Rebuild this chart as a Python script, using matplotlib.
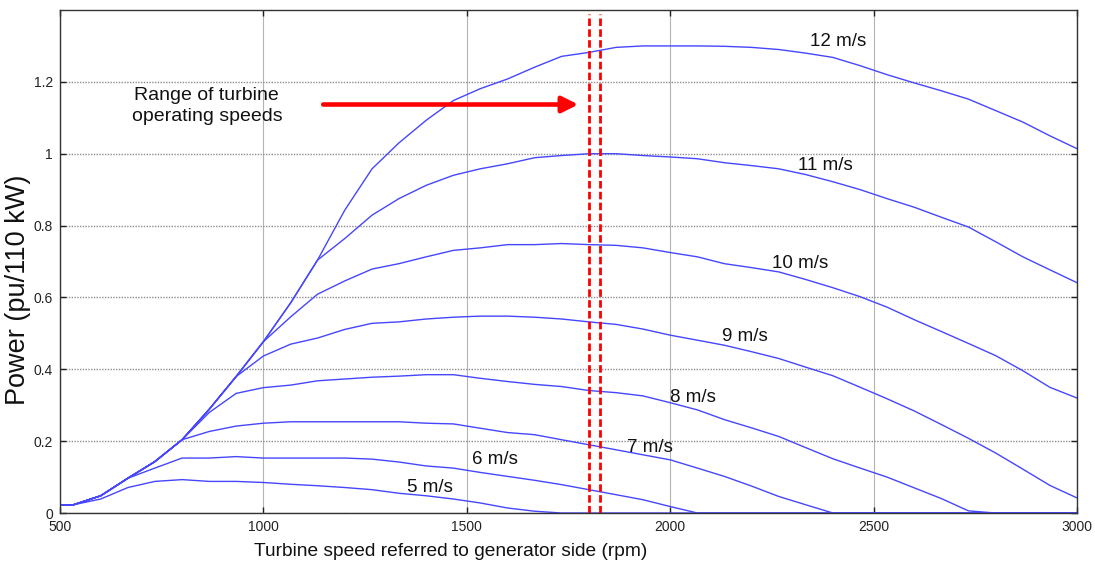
import matplotlib
matplotlib.use('Agg')
import matplotlib.pyplot as plt

# generator-side speed (rpm) and power (pu of 110 kW) per wind speed
x_rpm = [500, 533, 600, 667, 733, 800, 867, 933, 1000, 1067, 1133, 1200, 1267,
         1333, 1400, 1467, 1533, 1600, 1667, 1733, 1800, 1867, 1933, 2000, 2067,
         2133, 2200, 2267, 2333, 2400, 2467, 2533, 2600, 2667, 2733, 2800, 2867,
         2933, 3000]

p12 = [0.023, 0.023, 0.048, 0.097, 0.143, 0.204, 0.289, 0.380, 0.477, 0.585,
       0.704, 0.843, 0.958, 1.030, 1.093, 1.148, 1.181, 1.208, 1.241, 1.271,
       1.282, 1.296, 1.300, 1.300, 1.300, 1.299, 1.296, 1.290, 1.280, 1.268,
       1.245, 1.220, 1.197, 1.175, 1.152, 1.120, 1.088, 1.050, 1.014]
p11 = [0.023, 0.023, 0.048, 0.097, 0.143, 0.204, 0.289, 0.380, 0.477, 0.585,
       0.704, 0.764, 0.829, 0.875, 0.912, 0.940, 0.958, 0.972, 0.989, 0.995,
       1.000, 1.000, 0.995, 0.991, 0.986, 0.975, 0.967, 0.958, 0.942, 0.922,
       0.900, 0.875, 0.851, 0.823, 0.796, 0.755, 0.713, 0.677, 0.641]
p10 = [0.023, 0.023, 0.048, 0.097, 0.143, 0.204, 0.289, 0.380, 0.477, 0.546,
       0.609, 0.646, 0.679, 0.694, 0.713, 0.731, 0.738, 0.747, 0.747, 0.750,
       0.747, 0.745, 0.738, 0.725, 0.713, 0.694, 0.683, 0.671, 0.650, 0.627,
       0.602, 0.573, 0.538, 0.505, 0.472, 0.438, 0.396, 0.350, 0.320]
p9 = [0.023, 0.023, 0.048, 0.097, 0.143, 0.204, 0.289, 0.380, 0.437, 0.470,
      0.487, 0.511, 0.528, 0.532, 0.540, 0.545, 0.548, 0.548, 0.545, 0.540,
      0.532, 0.525, 0.512, 0.495, 0.481, 0.467, 0.449, 0.430, 0.406, 0.382,
      0.350, 0.318, 0.284, 0.246, 0.208, 0.167, 0.122, 0.077, 0.042]
p8 = [0.023, 0.023, 0.048, 0.097, 0.143, 0.204, 0.280, 0.333, 0.349, 0.356,
      0.368, 0.373, 0.378, 0.381, 0.385, 0.385, 0.375, 0.366, 0.358, 0.352,
      0.341, 0.335, 0.326, 0.307, 0.287, 0.260, 0.237, 0.213, 0.182, 0.151,
      0.125, 0.100, 0.070, 0.040, 0.006, 0.0, 0.0, 0.0, 0.0]
p7 = [0.023, 0.023, 0.048, 0.097, 0.143, 0.204, 0.227, 0.242, 0.250, 0.254,
      0.254, 0.254, 0.254, 0.254, 0.250, 0.248, 0.236, 0.224, 0.218, 0.204,
      0.190, 0.176, 0.162, 0.148, 0.125, 0.102, 0.075, 0.046, 0.023, 0.0,
      0.0, 0.0, 0.0, 0.0, 0.0, 0.0, 0.0, 0.0, 0.0]
p6 = [0.023, 0.023, 0.048, 0.097, 0.125, 0.153, 0.153, 0.157, 0.153, 0.153,
      0.153, 0.153, 0.150, 0.142, 0.131, 0.125, 0.113, 0.102, 0.091, 0.079,
      0.065, 0.051, 0.037, 0.018, 0.0, 0.0, 0.0, 0.0, 0.0, 0.0,
      0.0, 0.0, 0.0, 0.0, 0.0, 0.0, 0.0, 0.0, 0.0]
p5 = [0.023, 0.023, 0.039, 0.071, 0.088, 0.093, 0.088, 0.088, 0.085, 0.080,
      0.076, 0.071, 0.065, 0.055, 0.048, 0.039, 0.028, 0.014, 0.005, 0.0,
      0.0, 0.0, 0.0, 0.0, 0.0, 0.0, 0.0, 0.0, 0.0, 0.0,
      0.0, 0.0, 0.0, 0.0, 0.0, 0.0, 0.0, 0.0, 0.0]

curves = [p5, p6, p7, p8, p9, p10, p11, p12]
wind_labels = ['5 m/s', '6 m/s', '7 m/s', '8 m/s', '9 m/s', '10 m/s', '11 m/s', '12 m/s']
label_x = [1410, 1570, 1951, 2057, 2184, 2320, 2381, 2412]
label_y = [0.070, 0.148, 0.181, 0.322, 0.490, 0.695, 0.966, 1.313]

# operating range markers
range_lo = 1800
range_hi = 1828

xticks = [500, 1000, 1500, 2000, 2500, 3000]
yticks = [0, 0.2, 0.4, 0.6, 0.8, 1.0, 1.2]
ytick_labels = ['0', '0.2', '0.4', '0.6', '0.8', '1', '1.2']

plt.rcParams['font.family'] = ['Liberation Sans', 'DejaVu Sans']

fig = plt.figure(figsize=(10.95, 5.72), dpi=100)
ax = fig.add_axes([0.0548, 0.1031, 0.9288, 0.8794])

for p in curves:
    ax.plot(x_rpm, p, color='#4646ff', lw=1.0)

ax.set_xlim(500, 3000)
ax.set_ylim(0, 1.4)
ax.set_xticks(xticks)
ax.set_yticks(yticks)
ax.set_yticklabels(ytick_labels)
ax.tick_params(direction='in', top=True, right=True, length=4, width=1,
               labelsize=10, colors='#222222')
ax.tick_params(axis='y', pad=5)
ax.tick_params(axis='x', pad=5)

ax.xaxis.grid(True, color='#b4b4b4', ls='-', lw=0.8)
ax.yaxis.grid(True, color='#8c8c8c', ls=(0, (1, 1)), lw=1.0)
ax.set_axisbelow(True)
for s in ax.spines.values():
    s.set_color('#333333')
    s.set_linewidth(1.0)

# labels for each wind speed
for lab, lx, ly in zip(wind_labels, label_x, label_y):
    ax.text(lx, ly, lab, fontsize=13.5, ha='center', va='center', color='#111111')

ax.axvline(range_lo, color='red', ls=(0, (2.7, 1.2)), lw=2.0, ymax=0.993)
ax.axvline(range_hi, color='red', ls=(0, (2.7, 1.2)), lw=2.0, ymax=0.993)

ax.annotate('', xy=(1774, 1.137), xytext=(1147, 1.137),
            arrowprops=dict(arrowstyle='-|>,head_length=0.48,head_width=0.24',
                            color='red', lw=3.3, mutation_scale=20,
                            shrinkA=0, shrinkB=0))
ax.text(861, 1.133, 'Range of turbine\noperating speeds', fontsize=14,
        ha='center', va='center', color='#111111', linespacing=1.25)

ax.set_xlabel('Turbine speed referred to generator side (rpm)', fontsize=13.8,
              color='#111111')
ax.xaxis.set_label_coords(0.384, -0.0755)
ax.xaxis.label.set_va('center')
ax.set_ylabel('Power (pu/110 kW)', fontsize=19.5, color='#111111')
ax.yaxis.set_label_coords(-0.041, 0.443)
ax.yaxis.label.set_va('center')

fig.savefig('out.png', dpi=100)
